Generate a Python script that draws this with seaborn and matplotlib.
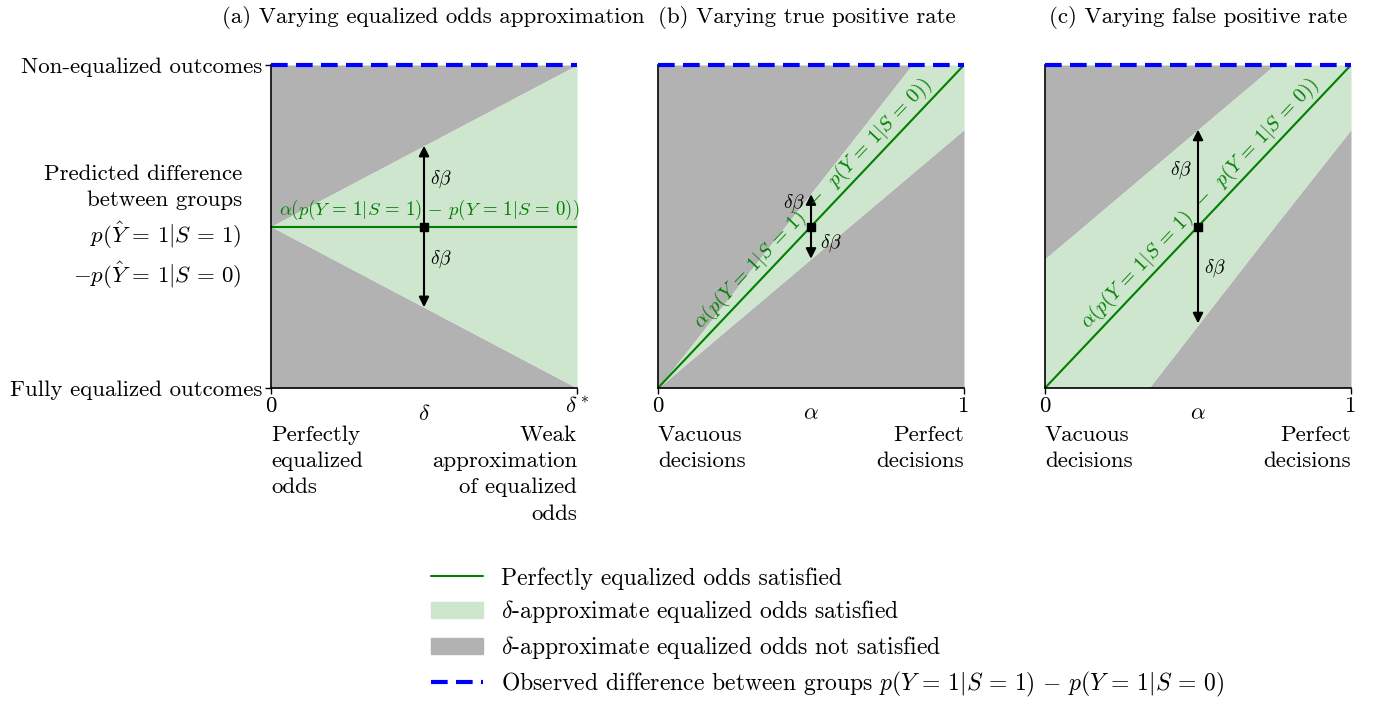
import matplotlib
matplotlib.use("Agg")
import matplotlib.pyplot as plt
import numpy as np
import seaborn as sns
from matplotlib.lines import Line2D
from matplotlib.patches import Patch

# data (x normalised to [0, 1] in every panel)
a_x = [0.0, 1.0]
a_upper = [0.5, 1.0]
a_lower = [0.5, 0.0]
a_line = [0.5, 0.5]

b_x = [0.0, 0.83, 1.0]
b_upper = [0.0, 1.0, 1.0]
b_lower = [0.0, 0.664, 0.8]
b_line = [0.0, 0.83, 1.0]

c_x = [0.0, 0.34, 0.75, 1.0]
c_upper = [0.4, 0.672, 1.0, 1.0]
c_lower = [0.0, 0.0, 0.5, 0.8]
c_line = [0.0, 0.34, 0.75, 1.0]

arrow_x = 0.5
arrow_center = 0.5
a_tips = [0.75, 0.25]
b_tips = [0.6, 0.4]
c_tips = [0.8, 0.2]

titles = ["(a) Varying equalized odds approximation",
          "(b) Varying true positive rate",
          "(c) Varying false positive rate"]
xticklabels = [["0", r"$\delta^*$"], ["0", "1"], ["0", "1"]]
xlabels = [r"$\delta$", r"$\alpha$", r"$\alpha$"]
left_notes = ["Perfectly\nequalized\nodds", "Vacuous\ndecisions", "Vacuous\ndecisions"]
right_notes = ["Weak\napproximation\nof equalized\nodds", "Perfect\ndecisions", "Perfect\ndecisions"]
ytick_labels = ["Fully equalized outcomes", "Non-equalized outcomes"]
legend_labels = ["Perfectly equalized odds satisfied",
                 r"$\delta$-approximate equalized odds satisfied",
                 r"$\delta$-approximate equalized odds not satisfied",
                 r"Observed difference between groups $p(Y\,=\,1|S\,=\,1)\,-\,p(Y\,=\,1|S\,=\,0)$"]
eq_label = r"$\alpha(p(Y\,=\,1|S\,=\,1)\,-\,p(Y\,=\,1|S\,=\,0))$"
eq_label_rot = r"$\alpha(p(Y\,=\,1|S\,=\,1)\;\;-\;\;p(Y\,=\,1|S\,=\,0))$"

sns.set_style("ticks")
plt.rcParams["font.family"] = ["cmr10", "DejaVu Serif"]
plt.rcParams["mathtext.fontset"] = "cm"
plt.rcParams["axes.formatter.use_mathtext"] = True
plt.rcParams["font.size"] = 16.5
for k in ["text.color", "axes.labelcolor", "xtick.color", "ytick.color"]:
    plt.rcParams[k] = "black"

GRAY = "#b2b2b2"
LGREEN = "#cee5ce"
GREEN = "#008000"
BLUE = "#0000ff"

fig = plt.figure(figsize=(13.77, 7.02), dpi=100)
lefts = [271 / 1377, 658 / 1377, 1045 / 1377]
axes = [fig.add_axes([l, 1 - 388 / 702, 306 / 1377, 323 / 702]) for l in lefts]

panels = [(a_x, a_upper, a_lower, a_line, a_tips),
          (b_x, b_upper, b_lower, b_line, b_tips),
          (c_x, c_upper, c_lower, c_line, c_tips)]

for i, (ax, (x, up, lo, ln, tips)) in enumerate(zip(axes, panels)):
    ax.fill_between(x, up, 1, color=GRAY, lw=0)
    ax.fill_between(x, 0, lo, color=GRAY, lw=0)
    ax.fill_between(x, lo, up, color=LGREEN, lw=0)
    sns.lineplot(x=x, y=ln, ax=ax, color=GREEN, lw=1.5)
    ax.plot([0, 1], [1, 1], color=BLUE, lw=3, ls=(0, (4, 2)), clip_on=False, zorder=5)
    for t in tips:
        ax.annotate("", xy=(arrow_x, t), xytext=(arrow_x, arrow_center),
                    arrowprops=dict(arrowstyle="-|>", color="black", lw=1.5,
                                    mutation_scale=15, shrinkA=0, shrinkB=0))
    ax.plot([arrow_x], [arrow_center], "s", color="black", ms=6, zorder=6)
    ax.set_xlim(0, 1)
    ax.set_ylim(0, 1)
    ax.set_xticks([0, 1])
    ax.set_xticklabels(xticklabels[i])
    ax.set_xlabel(xlabels[i])
    ax.xaxis.set_label_coords(0.5, -0.05)
    ax.tick_params(length=4, width=1, pad=2)
    sns.despine(ax=ax)
    for s in ["left", "bottom"]:
        ax.spines[s].set_linewidth(1.2)
        ax.spines[s].set_color("black")
    ax.text(0, -0.115, left_notes[i], transform=ax.transAxes, ha="left", va="top",
            linespacing=1.44)
    ax.text(1, -0.115, right_notes[i], transform=ax.transAxes, ha="right", va="top",
            multialignment="right", linespacing=1.44)
    if i == 0:
        ax.set_yticks([0, 1])
        ax.set_yticklabels(ytick_labels)
        ax.set_title(titles[i], pad=30, fontsize=16.5, x=0.53)
        ax.text(-0.095, 0.495,
                "Predicted difference\nbetween groups\n"
                r"$p(\hat{Y}\,=\,1|S\,=\,1)$" "\n" r"$-p(\hat{Y}\,=\,1|S\,=\,0)$",
                transform=ax.transAxes, ha="right", va="center",
                multialignment="right", linespacing=1.4)
    else:
        ax.set_yticks([])
        ax.set_title(titles[i], pad=30, fontsize=16.5,
                     loc="left" if i == 1 else "center")

# equation labels and delta-beta labels
axes[0].text(0.517, 0.515, eq_label, color=GREEN, ha="center", va="bottom", fontsize=13.5)
axes[0].text(0.52, 0.645, r"$\delta\beta$", ha="left", va="center", fontsize=14)
axes[0].text(0.52, 0.40, r"$\delta\beta$", ha="left", va="center", fontsize=14)

for ax in axes[1:]:
    ax.text(0.535, 0.545, eq_label_rot, color=GREEN, ha="center", va="bottom",
            fontsize=14.5, rotation=45, transform_rotates_text=True,
            rotation_mode="anchor")
axes[1].text(0.48, 0.573, r"$\delta\beta$", ha="right", va="center", fontsize=14)
axes[1].text(0.53, 0.449, r"$\delta\beta$", ha="left", va="center", fontsize=14)
axes[2].text(0.48, 0.675, r"$\delta\beta$", ha="right", va="center", fontsize=14)
axes[2].text(0.52, 0.372, r"$\delta\beta$", ha="left", va="center", fontsize=14)

handles = [Line2D([], [], color=GREEN, lw=1.5),
           Patch(color=LGREEN),
           Patch(color=GRAY),
           Line2D([], [], color=BLUE, lw=3, ls=(0, (4, 2)))]
fig.legend(handles, legend_labels, loc="upper left",
           bbox_to_anchor=(410 / 1377, 1 - 546 / 702), frameon=False, fontsize=17,
           handlelength=2.2, handletextpad=0.75, labelspacing=0.37)

fig.savefig("out.png", dpi=100)
